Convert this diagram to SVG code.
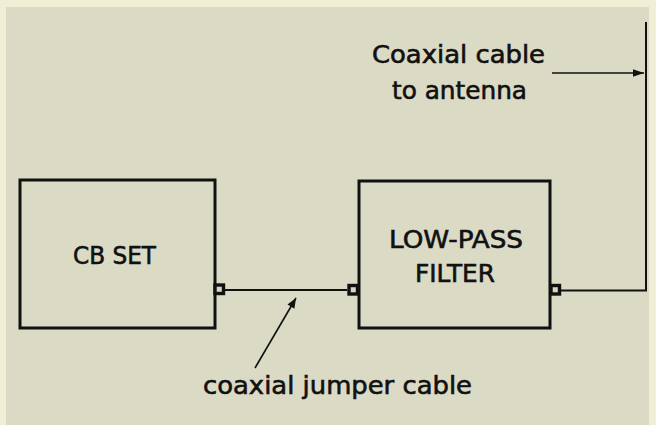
<svg xmlns="http://www.w3.org/2000/svg" width="656" height="425" viewBox="0 0 656 425">
<defs>
<style>
.box{fill:none;stroke:#111;stroke-width:3}
.port{fill:#d8d6c0;stroke:#111;stroke-width:3.4}
.wire{fill:none;stroke:#111;stroke-width:2}
.lead{fill:none;stroke:#111;stroke-width:1.6}
text{font-family:"DejaVu Sans","Liberation Sans",sans-serif;font-size:24.5px;fill:#111;stroke:#111;stroke-width:0.6}
</style>
<marker id="ah" viewBox="0 0 10 10" refX="10" refY="5" markerWidth="12" markerHeight="10" markerUnits="userSpaceOnUse" orient="auto">
<path d="M0,1 L10,5 L0,9 Z" fill="#111"/>
</marker>
<marker id="ah2" viewBox="0 0 10 10" refX="10" refY="5" markerWidth="16" markerHeight="11" markerUnits="userSpaceOnUse" orient="auto">
<path d="M0,1.5 L10,5 L0,8.5 Z" fill="#111"/>
</marker>
</defs>
<rect x="0" y="0" width="656" height="425" fill="#f1eed6"/>
<rect x="6" y="7" width="643" height="418" fill="#dbdac5"/>
<g id="connectors">
<path class="wire" d="M224,290 H347"/>
<path class="wire" d="M560,290.5 H646 V22"/>
<path class="lead" d="M552,73 H644" marker-end="url(#ah2)"/>
<path class="lead" d="M255,368 L296,298" marker-end="url(#ah)"/>
</g>
<g id="cb-set">
<rect class="box" x="20" y="180" width="195" height="148"/>
<rect class="port" x="215" y="285" width="8.5" height="8.5"/>
<text x="73" y="264" textLength="83" lengthAdjust="spacingAndGlyphs">CB SET</text>
</g>
<g id="low-pass-filter">
<rect class="box" x="359" y="181" width="191" height="147"/>
<rect class="port" x="349" y="285.5" width="8.5" height="8.5"/>
<rect class="port" x="551" y="285.5" width="8.5" height="8.5"/>
<text x="389" y="248" textLength="134" lengthAdjust="spacingAndGlyphs">LOW-PASS</text>
<text x="415" y="282" textLength="80" lengthAdjust="spacingAndGlyphs">FILTER</text>
</g>
<g id="labels">
<text x="372" y="63" textLength="173" lengthAdjust="spacingAndGlyphs">Coaxial cable</text>
<text x="392" y="99" textLength="135" lengthAdjust="spacingAndGlyphs">to antenna</text>
<text x="203" y="394" textLength="269" lengthAdjust="spacingAndGlyphs">coaxial jumper cable</text>
</g>
</svg>
